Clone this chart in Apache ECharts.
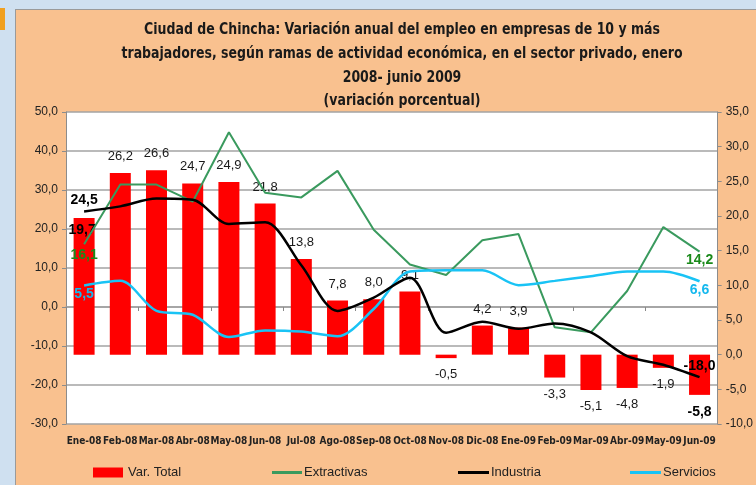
<!DOCTYPE html>
<html><head><meta charset="utf-8">
<script src="https://cdn.jsdelivr.net/npm/echarts@6/dist/echarts.min.js"></script>
<style>
html,body{margin:0;padding:0;width:756px;height:485px;overflow:hidden;background:#cfe0f0;}
#bg{position:absolute;left:15px;top:9px;width:741px;height:476px;background:#f9c18f;border-left:1px solid #9a9a9a;border-top:1px solid #9a9a9a;box-sizing:border-box;}
#mark{position:absolute;left:0;top:8px;width:5px;height:22px;background:#f0a020;}
#chart{position:absolute;left:0;top:0;width:756px;height:485px;}
</style></head>
<body>
<div id="bg"></div><div id="mark"></div>
<div id="chart"></div>
<script>
const categories = ['Ene-08','Feb-08','Mar-08','Abr-08','May-08','Jun-08','Jul-08','Ago-08','Sep-08','Oct-08','Nov-08','Dic-08','Ene-09','Feb-09','Mar-09','Abr-09','May-09','Jun-09'];
const varTotal = [19.7,26.2,26.6,24.7,24.9,21.8,13.8,7.8,8.0,9.1,-0.5,4.2,3.9,-3.3,-5.1,-4.8,-1.9,-5.8];
const extractivas = [16.1,31.4,31.4,27.0,44.8,29.3,28.1,34.9,19.8,10.9,8.2,17.1,18.7,-5.2,-6.5,4.1,20.5,14.2];
const industria = [24.5,25.8,27.8,27.5,21.3,21.7,10.7,-1.0,2.4,7.5,-6.6,-3.8,-5.6,-4.2,-6.5,-12.6,-14.8,-18.0];
const servicios = [5.5,6.7,-1.0,-2.0,-7.7,-6.0,-6.3,-7.5,-0.5,9.1,9.4,9.4,5.6,6.7,7.9,9.1,9.1,6.6];
const leftTicks = {min:-30, max:50, interval:10};
const rightTicks = {min:-10, max:35, interval:5};
const titleLines = ['Ciudad de Chincha: Variación anual del empleo en empresas de 10 y más','trabajadores, según ramas de actividad económica, en el sector privado, enero','2008- junio 2009','(variación porcentual)'];

const fmt = v => (typeof v === 'object' ? v.value : v).toFixed(1).replace('.', ',');
const FONT = 'Liberation Sans, Arial, sans-serif';
const NARROW = '"Liberation Sans Narrow", "DejaVu Sans Condensed", sans-serif';
const last = categories.length - 1;

const barData = varTotal.map((v, i) => {
  const item = {value: v, label: {position: v >= 0 ? 'top' : 'bottom'}};
  if (i === 0) item.label = {position: 'insideTop', distance: 5, fontWeight: 'bold', fontSize: 14, color: '#000', offset:[-2,0]};
  if (i === last) item.label = {position: 'bottom', distance: 10, fontWeight: 'bold', fontSize: 14, color: '#000'};
  return item;
});
function endLabels(arr, color, firstPos, lastPos) {
  return arr.map((v, i) => {
    const base = {show: true, color: color, fontWeight: 'bold', fontSize: 14, fontFamily: FONT, formatter: p => fmt(p.value)};
    if (i === 0) return {value: v, label: Object.assign(base, firstPos)};
    if (i === last) return {value: v, label: Object.assign(base, lastPos)};
    return {value: v, label: {show: false}};
  });
}

const graphics = titleLines.map((t, i) => ({
  type: 'text', x: 402, y: 30 + i * 23.7, scaleX: 0.87,
  style: {text: t, textAlign: 'center', textVerticalAlign: 'middle', font: 'bold 16px ' + NARROW, fill: '#1a1a1a'}
}));

const chart = echarts.init(document.getElementById('chart'), null, {renderer: 'canvas'});
chart.setOption({
  backgroundColor: 'transparent',
  animation: false,
  graphic: graphics,
  grid: {left: 66, right: 27, top: 112, bottom: 61, show: true, backgroundColor: '#fff', borderWidth: 0},
  legend: [
    {data: ['Var. Total'], left: 88, top: 461, itemWidth: 30, itemHeight: 10, itemGap: 4, icon: 'rect', textStyle: {fontSize: 13, fontFamily: FONT, color: '#222'}},
    {data: ['Extractivas'], left: 267, top: 461, itemWidth: 30, itemHeight: 3, icon: 'rect', textStyle: {fontSize: 13, fontFamily: FONT, color: '#222', padding:[0,0,0,-3]}},
    {data: ['Industria'], left: 453, top: 461, itemWidth: 31, itemHeight: 3, icon: 'rect', textStyle: {fontSize: 13, fontFamily: FONT, color: '#222', padding:[0,0,0,-3]}},
    {data: ['Servicios'], left: 625, top: 461, itemWidth: 31, itemHeight: 3, icon: 'rect', textStyle: {fontSize: 13, fontFamily: FONT, color: '#222', padding:[0,0,0,-3]}}
  ],
  xAxis: [
    {type: 'category', data: categories, boundaryGap: true,
      axisLine: {onZero: false, show: false}, axisTick: {show: false},
      axisLabel: {fontSize: 10, fontWeight: 'bold', fontFamily: NARROW, color: '#222', margin: 12, interval: 0}},
    {type: 'category', data: categories, boundaryGap: true, position: 'bottom',
      axisLine: {onZero: true, onZeroAxisIndex: 0, lineStyle: {color: '#a0a0a0', width: 1.5}},
      axisTick: {show: true, length: 4, lineStyle: {color: '#888'}}, axisLabel: {show: false}}
  ],
  yAxis: [
    {type: 'value', min: leftTicks.min, max: leftTicks.max, interval: leftTicks.interval, position: 'left',
      axisLine: {show: true, lineStyle: {color: '#8c8c8c', width: 1}},
      axisTick: {show: true, length: 4, lineStyle: {color: '#8c8c8c'}},
      axisLabel: {formatter: v => v.toFixed(1).replace('.', ','), fontSize: 12, fontFamily: FONT, color: '#222', margin: 8},
      splitLine: {show: true, lineStyle: {color: '#a3a3a3', width: 1.5}}},
    {type: 'value', min: rightTicks.min, max: rightTicks.max, interval: rightTicks.interval, position: 'right',
      axisLine: {show: true, lineStyle: {color: '#8c8c8c', width: 1}},
      axisTick: {show: true, length: 4, lineStyle: {color: '#8c8c8c'}},
      axisLabel: {formatter: v => v.toFixed(1).replace('.', ','), fontSize: 12, fontFamily: FONT, color: '#222', margin: 8},
      splitLine: {show: false}}
  ],
  series: [
    {name: 'Var. Total', type: 'bar', yAxisIndex: 1, data: barData, barWidth: 21, itemStyle: {color: '#ff0000'},
      label: {show: true, formatter: p => fmt(p.value), fontSize: 13, fontFamily: FONT, color: '#1a1a1a', distance: 10}, z: 2},
    {name: 'Extractivas', type: 'line', data: endLabels(extractivas, '#1a8a1a', {position: 'bottom', distance: 4}, {position: 'bottom', distance: 2}),
      symbol: 'circle', symbolSize: 0.01, showSymbol: true, lineStyle: {color: '#3a9a5e', width: 2}, itemStyle: {color: '#3a9a5e'}, z: 3},
    {name: 'Industria', type: 'line', data: endLabels(industria, '#000', {position: 'top', distance: 4}, {position: 'top', distance: 4}),
      symbol: 'circle', symbolSize: 0.01, showSymbol: true, smooth: 0.3, lineStyle: {color: '#000', width: 2.5}, itemStyle: {color: '#000'}, z: 4},
    {name: 'Servicios', type: 'line', data: endLabels(servicios, '#14b8ee', {position: 'bottom', distance: 2}, {position: 'bottom', distance: 2}),
      symbol: 'circle', symbolSize: 0.01, showSymbol: true, smooth: 0.3, lineStyle: {color: '#19c3f5', width: 2.5}, itemStyle: {color: '#19c3f5'}, z: 3}
  ]
});
</script>
</body></html>
